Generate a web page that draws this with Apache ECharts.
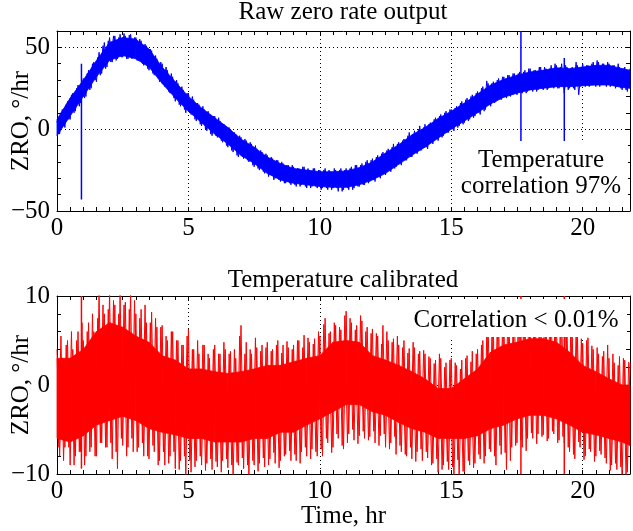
<!DOCTYPE html>
<html>
<head>
<meta charset="utf-8">
<script src="https://cdn.jsdelivr.net/npm/echarts@6/dist/echarts.min.js"></script>
<style>
html, body { margin: 0; padding: 0; background: #fff; }
#chart { width: 633px; height: 531px; }
</style>
</head>
<body>
<div id="chart"></div>
<script>
var FONT = '"Liberation Serif", "DejaVu Serif", serif';
var NOISE_STEP = 0.1; // hr between noise samples

// solid core of each trace, every half hour
var bandTimes = [0, 0.5, 1, 1.5, 2, 2.5, 3, 3.5, 4, 4.5, 5, 5.5, 6, 6.5, 7, 7.5, 8, 8.5, 9, 9.5,
  10, 10.5, 11, 11.5, 12, 12.5, 13, 13.5, 14, 14.5, 15, 15.5, 16, 16.5, 17, 17.5, 18, 18.5, 19, 19.5,
  20, 20.5, 21, 21.5, 21.8];
var rawBandLo = [-4, 8, 20, 32, 42, 45, 43, 38, 28, 19, 11, 4, -3, -9, -16, -21, -27, -31, -33, -34,
  -35, -35.5, -35.5, -34, -31, -27, -21.5, -16, -11, -5.5, 0, 5, 10, 15.5, 19.5, 22, 24, 25, 26, 26,
  26.5, 27, 27, 25.5, 25];
var rawBandHi = [6, 19, 30, 42, 53, 56, 55, 49, 38, 29, 20, 13, 7, 1, -6, -11, -17, -21, -24, -25,
  -26, -26, -25.5, -23.5, -20, -14.5, -9.5, -3.5, 1, 6.5, 11, 16, 21.5, 27, 30.5, 33, 35, 36, 37.5, 37,
  38, 39, 39, 37, 36];
var calBandLo = [-6, -6.4, -5.7, -4.5, -4, -3.5, -4, -4.9, -5.3, -5.6, -6, -6, -6.4, -6.4, -6.4, -6, -6, -5.3, -5.3, -4.5,
  -3.8, -3, -2.2, -2.2, -3, -3.4, -4.2, -4.9, -5.3, -6, -6, -6, -5.7, -4.9, -4.5, -3.8, -3.4, -3.4, -3.8, -4.5,
  -5.3, -5.6, -6, -6.4, -6.8];
var calBandHi = [3, 3, 4, 6, 7, 6.5, 5.5, 4.8, 3.3, 2.8, 1.8, 1.8, 1.5, 1.3, 1.5, 1.8, 2.2, 2.2, 2.6, 3,
  3.3, 4.8, 5, 4.8, 3.3, 2.8, 2.2, 1.5, 0.7, -0.4, -0.4, 0.7, 1.8, 3.7, 4.5, 4.8, 5.2, 5.2, 4.8, 3.7,
  2.2, 1.5, 0.7, 0, 0];

// noise excursions at 0.0, 0.1, 0.2 ... hr (one row per hour)
var rawNoise = [
  5, -3, 12, 1, 17, 6, 22, 11, 27, 16,
  31, 20, 36, 25, 41, 29, 47, 34, 53, 38,
  56, 41, 57, 43, 58, 44, 57, 43, 58, 44,
  56, 42, 54, 39, 51, 36, 48, 33, 43, 29,
  40, 26, 36, 22, 32, 17, 28, 14, 24, 10,
  22, 9, 18, 5, 15, 2, 12, -1, 9, -4,
  8, -5, 5, -8, 2, -11, 0, -14, -3, -17,
  -5, -18, -7, -20, -9, -23, -12, -25, -14, -27,
  -16, -28, -18, -30, -19, -32, -21, -33, -22, -34,
  -23, -35, -24, -34, -23, -36, -25, -35, -24, -36,
  -25, -36, -24, -37, -26, -36, -25, -38, -24, -37,
  -24, -37, -23, -36, -22, -35, -21, -34, -19, -32,
  -18, -32, -16, -30, -14, -28, -12, -26, -9, -23,
  -8, -22, -6, -19, -2, -17, -1, -15, 2, -12,
  3, -12, 4, -9, 7, -7, 9, -4, 11, -2,
  12, -1, 14, 2, 17, 4, 19, 6, 21, 8,
  23, 9, 26, 12, 28, 14, 29, 17, 31, 18,
  32, 19, 33, 21, 34, 21, 35, 22, 36, 23,
  37, 23, 36, 24, 38, 24, 37, 25, 39, 25,
  39, 25, 40, 22, 38, 25, 38, 24, 39, 26,
  40, 26, 39, 27, 41, 26, 41, 27, 40, 26,
  40, 27, 39, 26, 38, 24, 38, 23, 37
];
// noise excursions at 0.05, 0.15, 0.25 ... hr
var rawNoiseB = [
  -3, 10, 2, 15, 6, 21, 10, 25, 14, 29,
  19, 34, 24, 40, 30, 44, 33, 51, 37, 54,
  41, 57, 42, 56, 44, 58.5, 43, 57.5, 43, 56,
  42, 55, 40, 52, 37, 49, 34, 45, 31, 41,
  27, 38, 23, 34, 19, 30, 15, 26, 12, 22,
  10, 20, 6, 16, 3, 14, 0, 11, -3, 8,
  -4, 7, -7, 3, -10, 1, -13, -2, -16, -4,
  -17, -6, -19, -8, -22, -10, -24, -13, -26, -15,
  -29, -17, -31, -19, -31, -20, -33, -22, -33, -22,
  -34, -24, -35, -23, -35, -24, -36, -24, -35, -25,
  -37, -25, -36, -25, -37, -24, -36, -25, -38, -25,
  -36, -24, -37, -22, -35, -22, -34, -20, -33, -19,
  -31, -17, -29, -15, -27, -13, -25, -11, -24, -9,
  -21, -7, -19, -4, -17, -3, -14, 0, -13, 1,
  -11, 3, -8, 6, -6, 8, -5, 10, -2, 12,
  0, 13, 1, 16, 3, 18, 5, 20, 7, 22,
  10, 25, 11, 29.5, 15, 28, 16, 30, 19, 32,
  20, 33, 20, 34, 22, 34, 23, 35, 22, 37,
  24, 36, 23, 38, 25, 38, 24, 37, 26, 40,
  25, 38, 26, 39, 24, 37, 25, 41, 21, 38,
  27, 39, 26, 40, 27, 42, 26, 40, 28, 41,
  26, 39, 25, 40, 25, 37, 24, 36
];
var calNoise = [
  4, -8, 3, -7, 5, -9, 4, -8, 6, -7.5,
  5, -8, 7, -7, 6, -8, 10.5, -6.5, 8, -7,
  10.5, -8.3, 9, -9.4, 10.5, -6.8, 9.3, -7, 10.5, -7.5,
  8, -7, 8.5, -8, 7, -8.3, 8.2, -7.5, 6.5, -8.5,
  6.7, -9, 5, -8, 6, -9.4, 5, -8.5, 4.5, -10.5,
  6.3, -9.8, 4, -8.5, 3.5, -9, 4.5, -8.8, 3, -9.5,
  4.5, -9.2, 3.5, -8.5, 4, -9.3, 3.8, -10.5, 3, -9,
  6.7, -9.4, 4.8, -10.5, 3.5, -9, 4.2, -8.8, 4.5, -9.2,
  4.8, -8.3, 4, -8.8, 5, -8.5, 4.5, -7.8, 4.2, -8.5,
  4.5, -8.5, 5, -7.5, 5.6, -8, 4.8, -7.2, 5.2, -8,
  5.5, -8, 7.5, -6.5, 6, -7, 6.7, -6, 6.2, -7.2,
  8.3, -5.5, 7, -6.2, 6.7, -5.7, 7.2, -6, 6.5, -5.8,
  6.3, -6.5, 5.5, -5.7, 6.7, -7, 5, -6.5, 5.2, -7.8,
  4.5, -7.5, 5, -8, 4.1, -8.3, 4.2, -7.5, 3.8, -8.5,
  3.5, -8.2, 3, -8.8, 2.8, -9.8, 3, -9, 2.5, -9.5,
  3, -10.5, 2.2, -10.5, 2.8, -9.8, 3.3, -9, 3.8, -8.8,
  4, -8.3, 5, -8, 7, -7.5, 6.5, -9, 7.5, -7.8,
  8, -9.5, 7, -7, 8.5, -6.5, 7.5, -7, 8, -6,
  8.5, -6, 7.5, -5.5, 9, -5.6, 8, -6, 8.5, -5.5,
  7.5, -6.2, 8, -6.5, 7, -7.5, 6, -8.3, 5.5, -7,
  4.7, -8, 5.3, -7.5, 4, -8, 3.5, -7.8, 3.8, -8.8,
  3, -9, 2.5, -9.5, 3.2, -10.5, 2.8, -9.8, 2.5
];
var calNoiseB = [
  -7, 5.5, -8.5, 4.5, -7, 6, -9, 5, -7.5, 7,
  -9, 6, -7.5, 8, -8, 7.5, -6.5, 9, -7, 8.5,
  -6.5, 9.5, -7.5, 8, -6, 9, -8, 8.5, -6, 9.5,
  -7.5, 7.5, -6.5, 9, -8, 7, -6.8, 7.5, -9, 6.5,
  -7.5, 5.5, -8.8, 6, -7.5, 5, -9.5, 4.5, -8, 5.5,
  -8.5, 4, -9.2, 5, -8, 4.5, -9.6, 3.5, -8.3, 4,
  -8.6, 3.5, -9.8, 4.8, -8.3, 3.5, -9, 4, -8.7, 5.5,
  -8.2, 3.5, -9, 4, -8.5, 5.3, -9.7, 3.8, -8.2, 4.2,
  -9, 3.8, -7.6, 4.5, -9.3, 3.6, -8, 4.9, -7.4, 4,
  -7.8, 5, -8.8, 4.2, -7, 5.3, -8.3, 4.6, -7.5, 6,
  -7.2, 6.8, -6, 5.8, -7.6, 7, -5.5, 6.5, -6.8, 7.8,
  -6.5, 7.5, -5, 6.2, -6.6, 7.8, -5.2, 6, -6.2, 5.8,
  -5.2, 5.8, -6.8, 4.6, -5.5, 6, -7.2, 4.8, -5.8, 5.5,
  -6.8, 4.2, -7.8, 3.6, -7, 4.8, -8.6, 3.5, -7.2, 3.9,
  -7.5, 3.2, -9, 2.4, -8.3, 3.5, -9.5, 2, -8.6, 2.8,
  -9.2, 2.5, -8.4, 1.8, -9.7, 3, -8.5, 2.6, -9.3, 3.5,
  -7.8, 4.5, -8.8, 5.8, -7.2, 6, -8, 7.2, -6.8, 6.8,
  -7.6, 7.8, -8.5, 6.8, -6.8, 8.2, -6.2, 7.2, -7.4, 8.8,
  -5.4, 8, -6.6, 7.6, -5.8, 8.7, -6.3, 7.8, -5.2, 8.2,
  -6.5, 7.2, -5.8, 7.6, -7, 6.5, -7.8, 6.2, -6.4, 5.2,
  -8.4, 5, -7.2, 4.4, -8.6, 4.2, -7.4, 3.2, -8.2, 4.5,
  -9.6, 3.5, -8.8, 2.2, -9.2, 3, -10.2, 2.6
];

// short glitches seen in both traces
var glitchTimes = [0.93, 17.65, 19.3];
var rawGlitchTop = [40, 60, 43.5];
var rawGlitchBottom = [-43, -8, -8];
var calGlitchTop = [10, 10, 10];
var calGlitchBottom = [-9.4, -10, -10];

var BLUE = '#0000ff';
var RED = '#ff0000';

// bottom-edge tick marks every half hour, up to the right edge
var xTickValues = [];
for (var k = 0; k <= 43; k++) xTickValues.push(k / 2);

function noisePairs(vals, offset) {
  return vals.map(function(v, i) { return [+(offset + i * NOISE_STEP).toFixed(2), v]; });
}
function minus(v) {
  return String(v).replace('-', '\u2212');
}

var axisLine = { onZero: false, lineStyle: { color: '#000', width: 1 } };
var gridLine = { show: true, lineStyle: { color: '#000', type: [1, 3], width: 1 } };

// bottom x axis: labels and half-hour ticks
function xBottom(grid) {
  return {
    type: 'value', gridIndex: grid, position: 'bottom',
    min: 0, max: 21.8, interval: 5,
    axisLine: axisLine,
    axisTick: { inside: true, length: 4, customValues: xTickValues, lineStyle: { color: '#000' } },
    axisLabel: {
      margin: 5, color: '#000', fontFamily: FONT, fontSize: 25,
      customValues: [0, 5, 10, 15, 20], formatter: minus
    },
    splitLine: { show: false }
  };
}
// top x axis: frame, ticks and the dotted vertical grid
function xTop(grid) {
  return {
    type: 'value', gridIndex: grid, position: 'top',
    min: 0, max: 21.8, interval: 5,
    axisLine: axisLine,
    axisTick: { inside: true, length: 4, lineStyle: { color: '#000' } },
    minorTick: { show: true, splitNumber: 10, length: 4, lineStyle: { color: '#000' } },
    axisLabel: { show: false },
    splitLine: gridLine
  };
}
function yAxisOf(grid, pos, min, max, interval, showLabels) {
  return {
    type: 'value', gridIndex: grid, position: pos,
    min: min, max: max, interval: interval,
    name: showLabels ? 'ZRO, \u00b0/hr' : '',
    nameLocation: 'middle', nameRotate: 90, nameGap: 23, nameMoveOverlap: false,
    nameTextStyle: { color: '#000', fontFamily: FONT, fontSize: 25 },
    axisLine: axisLine,
    axisTick: { inside: true, length: 4, lineStyle: { color: '#000' } },
    minorTick: { show: true, splitNumber: 5, length: 4, lineStyle: { color: '#000' } },
    axisLabel: {
      show: showLabels, margin: 7, color: '#000', fontFamily: FONT, fontSize: 25,
      formatter: function(v) { return v > 50 ? '' : minus(v); }
    },
    splitLine: showLabels ? gridLine : { show: false }
  };
}

// solid band between lo and hi, drawn as one quad per segment
function bandSeries(gi, lo, hi, color) {
  return {
    type: 'custom', xAxisIndex: gi * 2, yAxisIndex: gi * 2,
    data: bandTimes.map(function(t, i) { return [t, lo[i], hi[i]]; }),
    encode: { x: 0, y: [1, 2] },
    renderItem: function(params, api) {
      var i = params.dataIndexInside;
      if (i === 0) return null;
      var t0 = api.value(0, i - 1), t1 = api.value(0, i);
      var pts = [
        api.coord([t0, api.value(1, i - 1)]),
        api.coord([t1, api.value(1, i)]),
        api.coord([t1, api.value(2, i)]),
        api.coord([t0, api.value(2, i - 1)])
      ];
      return {
        type: 'polygon', shape: { points: pts },
        style: { fill: color, stroke: color, lineWidth: 0.8 }
      };
    },
    silent: true, z: 2
  };
}
function noiseSeries(gi, vals, offset, color) {
  return {
    type: 'line', xAxisIndex: gi * 2, yAxisIndex: gi * 2,
    data: noisePairs(vals, offset), showSymbol: false, sampling: null,
    lineStyle: { color: color, width: 1 }, silent: true, z: 3
  };
}
function glitchSeries(gi, tops, bottoms, color) {
  return {
    type: 'custom', xAxisIndex: gi * 2, yAxisIndex: gi * 2,
    data: glitchTimes.map(function(t, i) { return [t, tops[i], bottoms[i]]; }),
    encode: { x: 0, y: [1, 2] },
    renderItem: function(params, api) {
      var a = api.coord([api.value(0), api.value(1)]);
      var b = api.coord([api.value(0), api.value(2)]);
      return {
        type: 'line',
        shape: { x1: a[0], y1: a[1], x2: b[0], y2: b[1] },
        style: { stroke: color, lineWidth: 1.5 }
      };
    },
    silent: true, z: 4
  };
}

var textFont = '25px ' + FONT;

var option = {
  animation: false,
  backgroundColor: '#fff',
  title: [
    { text: 'Raw zero rate output', left: 343, top: 0, textAlign: 'center', padding: 0,
      textStyle: { fontFamily: FONT, fontSize: 25, fontWeight: 'normal', color: '#000' } },
    { text: 'Temperature calibrated', left: 343, top: 268, textAlign: 'center', padding: 0,
      textStyle: { fontFamily: FONT, fontSize: 25, fontWeight: 'normal', color: '#000' } }
  ],
  grid: [
    { left: 57, right: 3, top: 31, height: 180, containLabel: false, outerBoundsMode: 'none' },
    { left: 57, right: 3, top: 296, height: 178, containLabel: false, outerBoundsMode: 'none' }
  ],
  xAxis: [
    xBottom(0),
    xTop(0),
    Object.assign(xBottom(1), {
      name: 'Time, hr', nameLocation: 'middle', nameGap: 30, nameMoveOverlap: false,
      nameTextStyle: { color: '#000', fontFamily: FONT, fontSize: 25 }
    }),
    xTop(1)
  ],
  yAxis: [
    yAxisOf(0, 'left', -50, 60, 50, true),
    yAxisOf(0, 'right', -50, 60, 50, false),
    yAxisOf(1, 'left', -10, 10, 10, true),
    yAxisOf(1, 'right', -10, 10, 10, false)
  ],
  series: [
    bandSeries(0, rawBandLo, rawBandHi, BLUE),
    noiseSeries(0, rawNoise, 0, BLUE),
    noiseSeries(0, rawNoiseB, 0.05, BLUE),
    glitchSeries(0, rawGlitchTop, rawGlitchBottom, BLUE),
    bandSeries(1, calBandLo, calBandHi, RED),
    noiseSeries(1, calNoise, 0, RED),
    noiseSeries(1, calNoiseB, 0.05, RED),
    glitchSeries(1, calGlitchTop, calGlitchBottom, RED)
  ],
  graphic: [
    { type: 'rect', z: 100, shape: { x: 452, y: 141, width: 176, height: 66 }, style: { fill: '#fff' } },
    { type: 'text', z: 101, x: 541, y: 147,
      style: { text: 'Temperature\ncorrelation 97%', font: textFont, fill: '#000', align: 'center', verticalAlign: 'top', lineHeight: 26 } },
    { type: 'rect', z: 100, shape: { x: 407, y: 299, width: 220, height: 38 }, style: { fill: '#fff' } },
    { type: 'text', z: 101, x: 516, y: 307,
      style: { text: 'Correlation < 0.01%', font: textFont, fill: '#000', align: 'center', verticalAlign: 'top', lineHeight: 26 } }
  ]
};

var chart = echarts.init(document.getElementById('chart'), null, { renderer: 'canvas' });
chart.setOption(option);
</script>
</body>
</html>
